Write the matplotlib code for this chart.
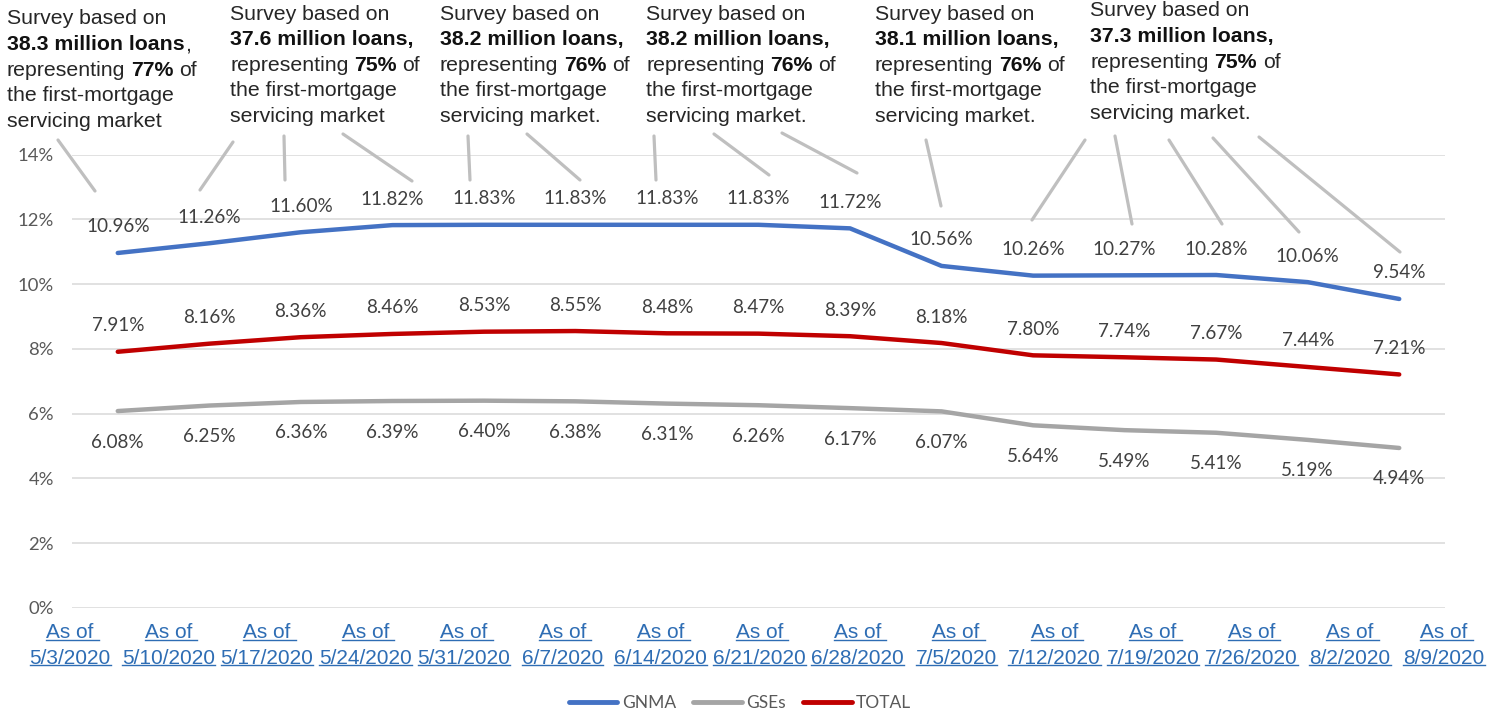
import numpy as np
import matplotlib
matplotlib.use("Agg")
import matplotlib.pyplot as plt
from matplotlib.lines import Line2D
from matplotlib.transforms import blended_transform_factory
from matplotlib.ticker import FuncFormatter

# data
dates = ["5/3/2020", "5/10/2020", "5/17/2020", "5/24/2020", "5/31/2020",
         "6/7/2020", "6/14/2020", "6/21/2020", "6/28/2020", "7/5/2020",
         "7/12/2020", "7/19/2020", "7/26/2020", "8/2/2020", "8/9/2020"]
gnma = [10.96, 11.26, 11.60, 11.82, 11.83, 11.83, 11.83, 11.83, 11.72,
        10.56, 10.26, 10.27, 10.28, 10.06, 9.54]
gses = [6.08, 6.25, 6.36, 6.39, 6.40, 6.38, 6.31, 6.26, 6.17,
        6.07, 5.64, 5.49, 5.41, 5.19, 4.94]
total = [7.91, 8.16, 8.36, 8.46, 8.53, 8.55, 8.48, 8.47, 8.39,
         8.18, 7.80, 7.74, 7.67, 7.44, 7.21]

loans = ["38.3", "37.6", "38.2", "38.2", "38.1", "37.3"]
shares = ["77%", "75%", "76%", "76%", "76%", "75%"]

W, H = 1502, 713
plt.rcParams["font.family"] = ["Lato", "DejaVu Sans"]

fig = plt.figure(figsize=(W / 100, H / 100), dpi=100)
fig.patch.set_facecolor("white")
renderer = fig.canvas.get_renderer()

# plot area in pixels: x 72..1445, y 154.5..608
ax = fig.add_axes([72 / W, 1 - 608 / H, (1445 - 72) / W, (608 - 154.5) / H])
x = np.arange(len(dates))

ax.plot(x, gnma, color="#4472C4", lw=3.2, solid_capstyle="round", label="GNMA", zorder=3)
ax.plot(x, gses, color="#A5A5A5", lw=3.2, solid_capstyle="round", label="GSEs", zorder=3)
ax.plot(x, total, color="#C00000", lw=3.2, solid_capstyle="round", label="TOTAL", zorder=3)

ax.set_xlim(-0.5, len(dates) - 0.5)
ax.set_ylim(0, 14)
ax.set_yticks(range(0, 15, 2))
ax.yaxis.set_major_formatter(FuncFormatter(lambda v, p: "%d%%" % v))
ax.set_xticks([])
ax.grid(axis="y", color="#D9D9D9", lw=1.1)
ax.set_axisbelow(True)
for s in ax.spines.values():
    s.set_visible(False)
ax.tick_params(axis="y", length=0, pad=13, labelsize=13.3, labelcolor="#595959")

# data labels
lab_kw = dict(textcoords="offset pixels", ha="center", va="center",
              fontsize=13.6, color="#404040")
for i in x:
    ax.annotate("%.2f%%" % gnma[i], (i, gnma[i]), xytext=(0, 26), **lab_kw)
    ax.annotate("%.2f%%" % total[i], (i, total[i]), xytext=(0, 26), **lab_kw)
    ax.annotate("%.2f%%" % gses[i], (i, gses[i]), xytext=(0, -31), **lab_kw)

# x labels (underlined, link style)
link = "#2E6DB4"
step = 1.0755
lab_tr = blended_transform_factory(ax.transData, fig.transFigure)
for i, d in enumerate(dates):
    xi = min(-0.52 + i * step, 14.49)
    for txt, ypx, extra in (("As of", 633, 5), (d, 658, 0)):
        t = ax.text(xi, 1 - ypx / H, txt, transform=lab_tr,
                    ha="center", va="center", fontsize=15, color=link,
                    family="Liberation Sans")
        bb = t.get_window_extent(renderer)
        uy = (bb.y0 + 2.5) / H
        fig.add_artist(Line2D([bb.x0 / W, (bb.x1 + extra) / W], [uy, uy],
                              transform=fig.transFigure, color=link, lw=1.0))

# survey text blocks
def text_width(s, bold):
    t = fig.text(0, 0, s, fontsize=15.3, family="Liberation Sans",
                 fontweight="bold" if bold else "normal")
    w = t.get_window_extent(renderer).width
    t.remove()
    return w

space_w = text_width("a a", False) - text_width("aa", False)

def rich_line(xp, yp, parts):
    for k, (s, bold) in enumerate(parts):
        if k > 0 and not s.startswith(","):
            xp += space_w
        t = fig.text(xp / W, 1 - yp / H, s, fontsize=15.3, family="Liberation Sans",
                     fontweight="bold" if bold else "normal",
                     color="#111111" if bold else "#262626", va="center", ha="left")
        xp += t.get_window_extent(renderer).width

block_pos = [(7, 19), (230, 14), (440, 14), (646, 14), (875, 14), (1090, 11)]
for b, (bx, by) in enumerate(block_pos):
    if b == 0:
        line2 = [(loans[b] + " million loans", True), (",", False)]
    else:
        line2 = [(loans[b] + " million loans,", True)]
    last = "servicing market" if b < 2 else "servicing market."
    lines = [[("Survey based on", False)], line2,
             [("representing", False), (shares[b], True), ("of", False)],
             [("the first-mortgage", False)], [(last, False)]]
    for j, ln in enumerate(lines):
        rich_line(bx, by + j * 25.6, ln)

# callout leader lines (figure pixels)
callouts = [((58, 140), (95, 191)), ((233, 142), (200, 190)), ((284, 136), (285, 180)),
            ((343, 134), (412, 181)), ((468, 136), (470, 180)), ((527, 134), (580, 180)),
            ((654, 136), (656, 180)), ((714, 134), (769, 175)), ((782, 133), (857, 173)),
            ((926, 140), (941, 206)), ((1085, 140), (1032, 220)), ((1115, 136), (1132, 224)),
            ((1169, 140), (1222, 224)), ((1213, 138), (1299, 232)), ((1259, 137), (1400, 252))]
for (x0, y0), (x1, y1) in callouts:
    fig.add_artist(Line2D([x0 / W, x1 / W], [1 - y0 / H, 1 - y1 / H],
                          transform=fig.transFigure, color="#BFBFBF", lw=2.3,
                          solid_capstyle="round"))

leg = fig.legend(loc="center", bbox_to_anchor=(740 / W, 1 - 703 / H), ncol=3,
                 frameon=False, fontsize=12.5, handlelength=2.8, handletextpad=0.25,
                 columnspacing=1.0, labelcolor="#595959")
for h in leg.legend_handles:
    h.set_linewidth(3.5)

fig.savefig("out.png", dpi=100)
